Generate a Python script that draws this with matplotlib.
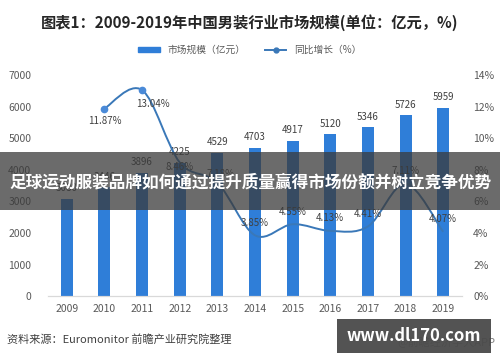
import matplotlib.pyplot as plt
import numpy as np
from matplotlib.path import Path
from matplotlib.patches import PathPatch, Rectangle
from matplotlib.lines import Line2D

plt.rcParams["font.family"] = ["Noto Sans CJK SC", "DejaVu Sans"]

# Podaci sa grafikona
YEARS = ["2009", "2010", "2011", "2012", "2013", "2014", "2015", "2016", "2017", "2018", "2019"]
MARKET_SIZE = [3080, 3446, 3896, 4225, 4529, 4703, 4917, 5120, 5346, 5726, 5959]
GROWTH_YEARS = YEARS[1:]
GROWTH = [11.87, 13.04, 8.46, 7.18, 3.85, 4.55, 4.13, 4.41, 7.11, 4.07]

BAR_COLOR = "#2f7ed8"
LINE_COLOR = "#3a78b8"
TEXT_COLOR = "#595959"


def smooth_path(xs, ys, tension=1 / 6):
    """Catmull-Rom kriva kao niz Bezier segmenata."""
    pts = np.column_stack([xs, ys]).astype(float)
    verts = [pts[0]]
    codes = [Path.MOVETO]
    n = len(pts)
    for i in range(n - 1):
        p0 = pts[max(i - 1, 0)]
        p1 = pts[i]
        p2 = pts[i + 1]
        p3 = pts[min(i + 2, n - 1)]
        c1 = p1 + (p2 - p0) * tension
        c2 = p2 - (p3 - p1) * tension
        verts += [c1, c2, p2]
        codes += [Path.CURVE4] * 3
    return Path(verts, codes)


def main():
    fig = plt.figure(figsize=(5.0, 3.62), dpi=100)
    ax = fig.add_axes([0.096, 0.182, 0.828, 0.611])
    ax2 = ax.twinx()

    x = np.arange(len(YEARS))
    bars = ax.bar(x, MARKET_SIZE, width=0.32, color=BAR_COLOR, zorder=2)
    for bar, value in zip(bars, MARKET_SIZE):
        ax.annotate(
            str(value),
            (bar.get_x() + bar.get_width() / 2, value),
            xytext=(0, 4),
            textcoords="offset points",
            ha="center",
            va="bottom",
            fontsize=7,
            color="#404040",
        )

    ax.set_xlim(-0.5, len(YEARS) - 0.5)
    ax.set_ylim(0, 7000)
    ax.set_yticks(range(0, 7001, 1000))
    ax.set_xticks(x)
    ax.set_xticklabels(YEARS)
    ax2.set_ylim(0, 14)
    ax2.set_yticks(range(0, 15, 2))
    ax2.set_yticklabels([f"{v}%" for v in range(0, 15, 2)])

    for axis in (ax, ax2):
        for side in ("top", "left", "right"):
            axis.spines[side].set_visible(False)
        axis.spines["bottom"].set_color("#d9d9d9")
        axis.tick_params(length=0, labelsize=7.5, colors=TEXT_COLOR)
    ax.tick_params(axis="x", pad=6)
    ax.tick_params(axis="y", pad=12)
    ax2.tick_params(axis="y", pad=8)

    gx = x[1:]
    patch = PathPatch(
        smooth_path(gx, GROWTH),
        facecolor="none",
        edgecolor=LINE_COLOR,
        linewidth=1.4,
        transform=ax2.transData,
        zorder=3,
    )
    ax2.add_patch(patch)
    ax2.plot(gx[:2], GROWTH[:2], "o", color="#4a8ad8", markersize=4.5, zorder=4)

    offsets = [(0, -9), (8, -10), (0, -3), (2, 6), (0, 9), (0, 9), (0, 9), (0, 9), (0, 9), (0, 9)]
    for xi, value, (dx, dy) in zip(gx, GROWTH, offsets):
        ax2.annotate(
            f"{value:.2f}%",
            (xi, value),
            xytext=(dx, dy),
            textcoords="offset points",
            ha="center",
            va="center",
            fontsize=7,
            color="#404040",
            zorder=5,
        )

    fig.text(0.5, 0.938, "图表1：2009-2019年中国男装行业市场规模(单位：亿元，%)",
             ha="center", va="center", fontsize=11, fontweight="bold", color="#262626")

    handles = [
        Rectangle((0, 0), 1, 1, color=BAR_COLOR),
        Line2D([0], [0], color=LINE_COLOR, marker="o", markersize=3.5, linewidth=1.4),
    ]
    fig.legend(handles, ["市场规模（亿元）", "同比增长（%）"], loc="center",
               bbox_to_anchor=(0.5, 0.862), ncol=2, frameon=False, fontsize=7,
               handlelength=2.2, handleheight=0.5, columnspacing=2.0,
               labelcolor=TEXT_COLOR)

    fig.text(0.014, 0.062, "资料来源：Euromonitor 前瞻产业研究院整理",
             ha="left", va="center", fontsize=8, color="#404040")

    # Banner preko grafikona
    fig.patches.append(Rectangle((0, 1 - 210 / 362), 1, 58 / 362, transform=fig.transFigure,
                                 facecolor="#3a3a3a", alpha=0.75, zorder=10))
    fig.text(0.5, 1 - 182 / 362, "足球运动服装品牌如何通过提升质量赢得市场份额并树立竞争优势",
             ha="center", va="center", fontsize=12, fontweight="bold", color="white", zorder=11)

    fig.text(0.99, 1 - 342 / 362, "@前瞻经济学人APP", ha="right", va="center",
             fontsize=8, color="#808080")
    fig.patches.append(Rectangle((337 / 500, 1 - 353 / 362), 154 / 500, 34 / 362,
                                 transform=fig.transFigure, facecolor="#4a4a4a",
                                 alpha=0.95, zorder=10))
    fig.text(414 / 500, 1 - 336 / 362, "www.dl170.com", ha="center", va="center",
             fontsize=12, fontweight="bold", color="white", zorder=11)

    fig.savefig("out.png", dpi=100)
    plt.close(fig)


if __name__ == "__main__":
    main()
